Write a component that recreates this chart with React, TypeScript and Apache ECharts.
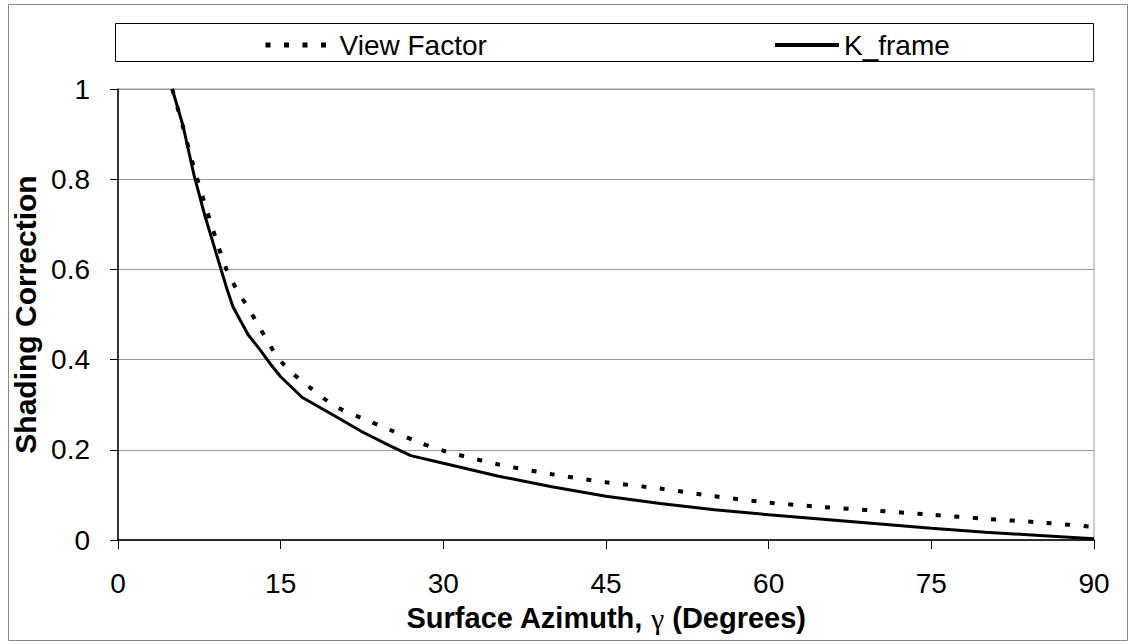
import React, { useEffect, useRef } from "react";
import * as echarts from "echarts";

const viewFactorX = [5, 6, 7, 8, 9, 10, 11, 12, 13, 14, 15, 16, 17.5, 20, 22.5, 25, 27.5, 30, 35, 40, 45, 50, 55, 60, 65, 70, 75, 80, 85, 90];
const viewFactorY = [1.0, 0.915, 0.826, 0.746, 0.67, 0.6, 0.553, 0.515, 0.474, 0.432, 0.397, 0.372, 0.342, 0.297, 0.27, 0.245, 0.219, 0.198, 0.168, 0.146, 0.128, 0.114, 0.097, 0.083, 0.073, 0.065, 0.056, 0.047, 0.039, 0.029];

const kFrameX = [5, 6, 7, 8, 9, 10, 10.6, 12, 13, 14, 15, 17, 20, 22.5, 25, 27, 30, 35, 40, 45, 50, 55, 60, 65, 70, 75, 80, 85, 90];
const kFrameY = [1.0, 0.918, 0.81, 0.72, 0.64, 0.56, 0.517, 0.455, 0.425, 0.392, 0.362, 0.316, 0.275, 0.24, 0.21, 0.187, 0.17, 0.142, 0.118, 0.097, 0.081, 0.067, 0.056, 0.046, 0.036, 0.026, 0.017, 0.01, 0.003];

const xTicks = { min: 0, max: 90, interval: 15 };
const yTicks = { min: 0, max: 1, interval: 0.2 };

const FONT = "'Liberation Sans', Arial, sans-serif";

export default function App() {
  const ref = useRef<HTMLDivElement>(null);
  useEffect(() => {
    if (!ref.current) return;
    const chart = echarts.init(ref.current, undefined, { renderer: "svg" });
    const legendCommon = {
      top: 26,
      itemHeight: 14,
      itemStyle: { color: "transparent", borderWidth: 0 },
      textStyle: { fontSize: 28, fontFamily: FONT, color: "#000" },
    };
    chart.setOption({
      animation: false,
      backgroundColor: "#ffffff",
      textStyle: { fontFamily: FONT, color: "#000" },
      grid: { left: 118, right: 37, top: 89, bottom: 104, show: true, borderColor: "#999", borderWidth: 1, backgroundColor: "transparent" },
      legend: [
        { ...legendCommon, data: ["View Factor"], left: 258, itemWidth: 69, lineStyle: { width: 5, type: [5, 13.5], color: "#000" } },
        { ...legendCommon, data: ["K_frame"], left: 768, itemWidth: 64, lineStyle: { width: 4, type: "solid", color: "#000" } },
      ],
      graphic: [
        { type: "rect", shape: { x: 8.5, y: 4.5, width: 1119, height: 636 }, style: { fill: "none", stroke: "#888", lineWidth: 1 }, silent: true },
        { type: "rect", shape: { x: 115.5, y: 23.5, width: 978, height: 38 }, style: { fill: "none", stroke: "#000", lineWidth: 1 }, silent: true },
      ],
      xAxis: {
        type: "value",
        min: xTicks.min,
        max: xTicks.max,
        interval: xTicks.interval,
        name: "{a|Surface Azimuth, }{g|γ}{a| (Degrees)}",
        nameLocation: "middle",
        nameGap: 63,
        nameTextStyle: {
          rich: {
            a: { fontSize: 29, fontWeight: "bold", fontFamily: FONT, color: "#000" },
            g: { fontSize: 30, fontFamily: "'Liberation Serif', serif", color: "#000" },
          },
        },
        axisLine: { show: true, lineStyle: { color: "#000", width: 1.5 } },
        axisTick: { show: true, length: 9, lineStyle: { color: "#000" } },
        axisLabel: { fontSize: 28, margin: 29, color: "#000", fontFamily: FONT },
        splitLine: { show: false },
      },
      yAxis: {
        type: "value",
        min: yTicks.min,
        max: yTicks.max,
        interval: yTicks.interval,
        name: "Shading Correction",
        nameLocation: "middle",
        nameGap: 72,
        nameRotate: 90,
        nameTextStyle: { fontSize: 30, fontWeight: "bold", fontFamily: FONT, color: "#000" },
        axisLine: { show: true, lineStyle: { color: "#000", width: 1.5 } },
        axisTick: { show: true, length: 8, lineStyle: { color: "#000" } },
        axisLabel: { fontSize: 28, margin: 28, color: "#000", fontFamily: FONT },
        splitLine: { show: true, lineStyle: { color: "#999", width: 1 } },
      },
      series: [
        {
          name: "View Factor",
          type: "line",
          data: viewFactorX.map((x, i) => [x, viewFactorY[i]]),
          symbol: "none",
          smooth: 0.3,
          lineStyle: { color: "#000", width: 4, type: [5, 13.5], cap: "butt" },
          itemStyle: { color: "#000" },
        },
        {
          name: "K_frame",
          type: "line",
          data: kFrameX.map((x, i) => [x, kFrameY[i]]),
          symbol: "none",
          lineStyle: { color: "#000", width: 3 },
          itemStyle: { color: "#000" },
        },
      ],
    });
    return () => chart.dispose();
  }, []);
  return <div ref={ref} style={{ width: 1131, height: 644, position: "absolute", left: 0, top: 0 }} />;
}
